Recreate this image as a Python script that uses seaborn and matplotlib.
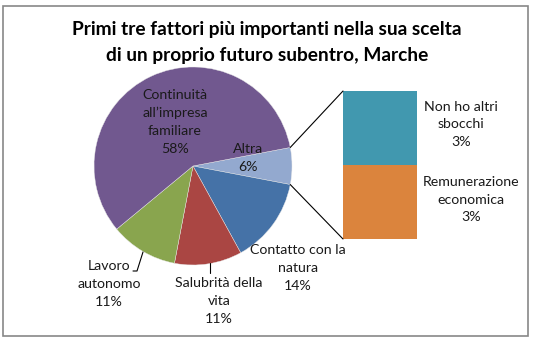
import numpy as np
import matplotlib
matplotlib.use("Agg")
import matplotlib.pyplot as plt
from matplotlib.patches import ConnectionPatch, Rectangle
import seaborn as sns

# ---- data ----
title_lines = ["Primi tre fattori più importanti nella sua scelta",
               "di un proprio futuro subentro, Marche"]
pie_categories = ["Altra", "Contatto con la\nnatura", "Salubrità della\nvita",
                  "Lavoro\nautonomo", "Continuità\nall’impresa\nfamiliare"]
pie_values = [6, 14, 11, 11, 58]
bar_categories = ["Remunerazione\neconomica", "Non ho altri\nsbocchi"]
bar_values = [3, 3]

pie_colors = ["#93A9CF", "#4572A7", "#AA4643", "#89A54E", "#71588F"]
bar_colors = ["#DB843D", "#4198AF"]

sns.set_theme(style="white")
plt.rcParams["font.family"] = ["Lato", "DejaVu Sans"]

W, H = 535, 339
fig = plt.figure(figsize=(W / 100, H / 100), dpi=100)
ax = fig.add_axes([0, 0, 1, 1])

def Y(py):
    return H - py

cx, cy, r = 193, Y(166), 99
start = 360 * pie_values[0] / sum(pie_values) / 2
wedges, _ = ax.pie(pie_values, colors=pie_colors, startangle=start,
                   counterclock=False, center=(cx, cy), radius=r, frame=True,
                   wedgeprops=dict(linewidth=0.3, edgecolor="#e8e8e8"))
ax.set_xlim(0, W)
ax.set_ylim(0, H)
ax.set_aspect("auto")
ax.axis("off")

# frame
ax.add_patch(Rectangle((3, Y(336)), 525, 330.5, fill=False, edgecolor="#878787", linewidth=1.2))

# title
for i, line in enumerate(title_lines):
    ax.text(267, Y(30 + 26 * i), line, ha="center", va="center",
            fontsize=13.8, fontweight="bold", color="#000000")

def put(lines, x, y0, step=18, size=10.2):
    for i, l in enumerate(lines):
        ax.text(x, Y(y0 + step * i), l, ha="center", va="center",
                fontsize=size, color="#1a1a1a")

pie_label_pos = [(248, 149), (298, 250), (219, 283), (109, 266), (175, 95)]
for lab, v, (x, y) in zip(pie_categories, pie_values, pie_label_pos):
    put(lab.split("\n") + [f"{v}%"], x, y)

# leader lines
ax.plot([133, 137, 143], [Y(271), Y(271), Y(252)], color="#000000", lw=0.8)
ax.plot([210, 210], [Y(263), Y(273)], color="#000000", lw=0.8)

# bar of pie
bx0, by0, bw, bh = 343, 239, 74, 148
ax2 = fig.add_axes([bx0 / W, Y(by0) / H, bw / W, bh / H])
bottom = 0
for v, c in zip(bar_values, bar_colors):
    ax2.bar(0, v, bottom=bottom, width=1, color=c, linewidth=0)
    bottom += v
ax2.set_xlim(-0.5, 0.5)
ax2.set_ylim(0, sum(bar_values))
ax2.axis("off")

bar_label_pos = [(471, 182), (461, 107)]
for lab, v, (x, y) in zip(bar_categories, bar_values, bar_label_pos):
    put(lab.split("\n") + [f"{v}%"], x, y, step=17.5)

# connectors
t1 = np.deg2rad(wedges[0].theta1)
t2 = np.deg2rad(wedges[0].theta2)
pA = (cx + r * np.cos(t2), cy + r * np.sin(t2))
pB = (cx + r * np.cos(t1), cy + r * np.sin(t1))
for pa, pb in [(pA, (0, 1)), (pB, (0, 0))]:
    con = ConnectionPatch(xyA=pa, coordsA=ax.transData, xyB=pb, coordsB=ax2.transAxes,
                          color="#000000", lw=0.8)
    fig.add_artist(con)

fig.savefig("out.png", dpi=100)
